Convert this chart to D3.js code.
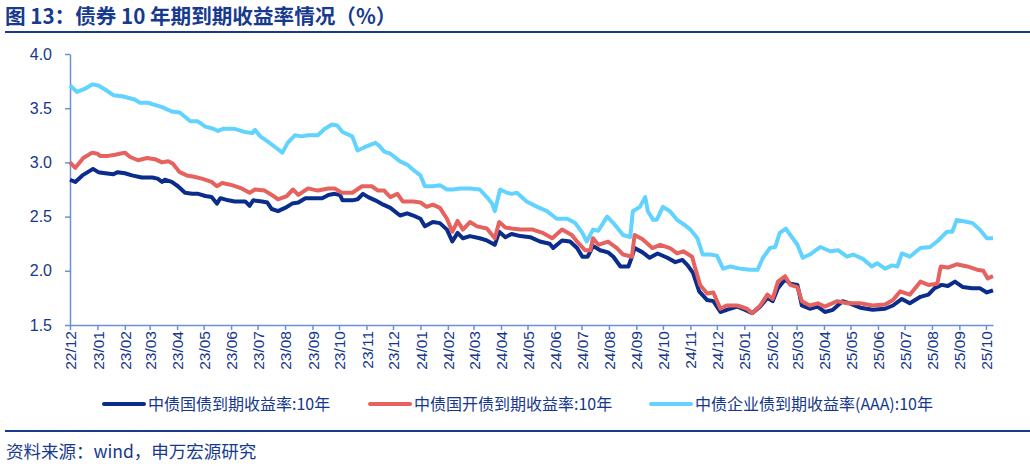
<!DOCTYPE html>
<html>
<head>
<meta charset="utf-8">
<title>债券 10 年期到期收益率情况</title>
<script src="https://d3js.org/d3.v7.min.js"></script>
<style>
  body { margin: 0; background: #fff; }
  svg { display: block; }
  .line { fill: none; stroke-width: 4px; stroke-linejoin: round; }
  .axis path, .axis line { stroke: #6b8fd8; stroke-width: 1.5px; }
  .axis text { font-family: "Liberation Sans", Arial, sans-serif; font-size: 16px; fill: #15378c; }
</style>
</head>
<body>
<svg width="1030" height="466"></svg>
<script>
// 中债国债到期收益率:10年
const cgb10y = [
  ["2022-12-01",2.84],["2022-12-07",2.82],["2022-12-15",2.88],["2022-12-21",2.91],["2022-12-27",2.94],
  ["2023-01-02",2.91],["2023-01-10",2.90],["2023-01-19",2.89],["2023-01-24",2.91],["2023-02-01",2.90],
  ["2023-02-09",2.88],["2023-02-20",2.86],["2023-03-04",2.86],["2023-03-10",2.85],["2023-03-15",2.82],
  ["2023-03-18",2.84],["2023-03-26",2.82],["2023-04-02",2.78],["2023-04-10",2.72],["2023-04-18",2.71],
  ["2023-04-25",2.71],["2023-05-03",2.69],["2023-05-10",2.68],["2023-05-16",2.62],["2023-05-20",2.67],
  ["2023-05-29",2.65],["2023-06-05",2.64],["2023-06-17",2.64],["2023-06-22",2.60],["2023-06-26",2.65],
  ["2023-07-06",2.64],["2023-07-12",2.63],["2023-07-17",2.57],["2023-07-24",2.55],["2023-08-01",2.58],
  ["2023-08-09",2.62],["2023-08-16",2.63],["2023-08-24",2.67],["2023-08-31",2.67],["2023-09-12",2.67],
  ["2023-09-19",2.70],["2023-09-26",2.71],["2023-10-02",2.70],["2023-10-05",2.65],["2023-10-16",2.65],
  ["2023-10-22",2.66],["2023-10-28",2.71],["2023-11-03",2.68],["2023-11-11",2.65],["2023-11-20",2.61],
  ["2023-11-28",2.58],["2023-12-09",2.51],["2023-12-17",2.53],["2023-12-24",2.51],["2024-01-01",2.48],
  ["2024-01-06",2.41],["2024-01-15",2.45],["2024-01-23",2.44],["2024-01-31",2.38],["2024-02-06",2.27],
  ["2024-02-12",2.35],["2024-02-18",2.30],["2024-02-26",2.32],["2024-03-08",2.30],["2024-03-16",2.28],
  ["2024-03-25",2.24],["2024-03-30",2.36],["2024-04-06",2.31],["2024-04-13",2.34],["2024-04-23",2.32],
  ["2024-05-04",2.31],["2024-05-15",2.27],["2024-05-26",2.25],["2024-05-30",2.21],["2024-06-09",2.28],
  ["2024-06-18",2.27],["2024-06-26",2.21],["2024-07-02",2.13],["2024-07-08",2.13],["2024-07-14",2.23],
  ["2024-07-22",2.19],["2024-07-31",2.17],["2024-08-06",2.13],["2024-08-14",2.04],["2024-08-23",2.04],
  ["2024-08-27",2.13],["2024-08-30",2.21],["2024-09-08",2.17],["2024-09-16",2.12],["2024-09-25",2.16],
  ["2024-10-06",2.12],["2024-10-15",2.08],["2024-10-23",2.10],["2024-10-29",2.05],["2024-11-04",1.98],
  ["2024-11-11",1.81],["2024-11-20",1.73],["2024-11-27",1.72],["2024-12-05",1.62],["2024-12-12",1.64],
  ["2024-12-24",1.67],["2025-01-02",1.64],["2025-01-10",1.61],["2025-01-19",1.67],["2025-01-27",1.75],
  ["2025-02-02",1.72],["2025-02-08",1.84],["2025-02-16",1.92],["2025-02-22",1.88],["2025-03-02",1.87],
  ["2025-03-07",1.68],["2025-03-16",1.65],["2025-03-25",1.67],["2025-04-02",1.62],["2025-04-11",1.64],
  ["2025-04-22",1.72],["2025-04-30",1.70],["2025-05-12",1.66],["2025-05-26",1.64],["2025-06-09",1.65],
  ["2025-06-18",1.68],["2025-06-28",1.74],["2025-07-07",1.70],["2025-07-19",1.76],["2025-07-28",1.78],
  ["2025-08-04",1.84],["2025-08-12",1.87],["2025-08-19",1.86],["2025-08-27",1.90],["2025-09-05",1.85],
  ["2025-09-15",1.84],["2025-09-24",1.84],["2025-10-02",1.80],["2025-10-09",1.82]
];

// 中债国开债到期收益率:10年
const cdb10y = [
  ["2022-12-01",3.00],["2022-12-07",2.95],["2022-12-16",3.04],["2022-12-26",3.09],["2023-01-01",3.08],
  ["2023-01-04",3.06],["2023-01-13",3.06],["2023-01-21",3.07],["2023-02-01",3.09],["2023-02-07",3.05],
  ["2023-02-16",3.02],["2023-02-26",3.04],["2023-03-07",3.03],["2023-03-15",3.00],["2023-03-22",3.01],
  ["2023-03-27",2.99],["2023-04-04",2.91],["2023-04-12",2.88],["2023-04-19",2.87],["2023-04-29",2.85],
  ["2023-05-10",2.82],["2023-05-16",2.78],["2023-05-22",2.81],["2023-06-02",2.79],["2023-06-13",2.76],
  ["2023-06-22",2.72],["2023-06-28",2.75],["2023-07-09",2.74],["2023-07-17",2.70],["2023-07-24",2.66],
  ["2023-08-03",2.69],["2023-08-10",2.75],["2023-08-16",2.70],["2023-08-27",2.76],["2023-09-07",2.74],
  ["2023-09-19",2.76],["2023-09-26",2.76],["2023-10-04",2.72],["2023-10-16",2.72],["2023-10-27",2.78],
  ["2023-11-07",2.78],["2023-11-14",2.74],["2023-11-21",2.74],["2023-11-28",2.68],["2023-12-06",2.71],
  ["2023-12-12",2.64],["2023-12-24",2.64],["2024-01-01",2.63],["2024-01-08",2.59],["2024-01-15",2.61],
  ["2024-01-23",2.58],["2024-01-31",2.48],["2024-02-06",2.36],["2024-02-12",2.46],["2024-02-18",2.38],
  ["2024-02-26",2.45],["2024-03-05",2.41],["2024-03-16",2.39],["2024-03-25",2.30],["2024-03-30",2.45],
  ["2024-04-06",2.40],["2024-04-13",2.39],["2024-04-23",2.38],["2024-05-07",2.38],["2024-05-18",2.35],
  ["2024-05-29",2.30],["2024-06-09",2.38],["2024-06-20",2.33],["2024-06-27",2.26],["2024-07-05",2.19],
  ["2024-07-11",2.19],["2024-07-14",2.30],["2024-07-20",2.24],["2024-07-31",2.27],["2024-08-10",2.21],
  ["2024-08-17",2.15],["2024-08-27",2.13],["2024-08-30",2.33],["2024-09-08",2.29],["2024-09-19",2.21],
  ["2024-09-28",2.24],["2024-10-09",2.21],["2024-10-17",2.16],["2024-10-24",2.18],["2024-11-03",2.13],
  ["2024-11-06",2.04],["2024-11-12",1.87],["2024-11-20",1.79],["2024-11-27",1.80],["2024-12-05",1.65],
  ["2024-12-12",1.68],["2024-12-24",1.68],["2025-01-04",1.65],["2025-01-10",1.61],["2025-01-19",1.68],
  ["2025-01-27",1.78],["2025-02-02",1.74],["2025-02-08",1.90],["2025-02-16",1.95],["2025-02-22",1.87],
  ["2025-03-02",1.85],["2025-03-07",1.72],["2025-03-16",1.68],["2025-03-25",1.70],["2025-04-02",1.67],
  ["2025-04-16",1.72],["2025-04-27",1.70],["2025-05-12",1.70],["2025-05-26",1.68],["2025-06-09",1.69],
  ["2025-06-18",1.73],["2025-06-26",1.81],["2025-07-07",1.78],["2025-07-19",1.90],["2025-07-28",1.87],
  ["2025-08-07",1.88],["2025-08-11",2.04],["2025-08-19",2.03],["2025-08-29",2.06],["2025-09-10",2.04],
  ["2025-09-21",2.01],["2025-09-28",2.00],["2025-10-03",1.93],["2025-10-09",1.95]
];

// 中债企业债到期收益率(AAA):10年
const aaa10y = [
  ["2022-12-01",3.71],["2022-12-09",3.65],["2022-12-18",3.68],["2022-12-26",3.72],["2023-01-02",3.71],
  ["2023-01-10",3.67],["2023-01-19",3.62],["2023-01-29",3.61],["2023-02-12",3.58],["2023-02-18",3.55],
  ["2023-02-27",3.55],["2023-03-15",3.51],["2023-03-26",3.47],["2023-04-04",3.46],["2023-04-16",3.38],
  ["2023-04-24",3.38],["2023-05-03",3.33],["2023-05-12",3.31],["2023-05-17",3.29],["2023-05-23",3.31],
  ["2023-06-05",3.31],["2023-06-17",3.28],["2023-06-25",3.27],["2023-06-28",3.30],["2023-07-04",3.24],
  ["2023-07-13",3.19],["2023-07-21",3.14],["2023-07-29",3.09],["2023-08-04",3.18],["2023-08-12",3.25],
  ["2023-08-20",3.24],["2023-08-27",3.25],["2023-09-07",3.25],["2023-09-15",3.31],["2023-09-23",3.35],
  ["2023-09-29",3.34],["2023-10-05",3.28],["2023-10-16",3.24],["2023-10-22",3.11],["2023-10-30",3.14],
  ["2023-11-11",3.18],["2023-11-16",3.15],["2023-11-21",3.10],["2023-11-28",3.08],["2023-12-09",3.01],
  ["2023-12-17",2.98],["2023-12-24",2.93],["2024-01-01",2.88],["2024-01-06",2.78],["2024-01-15",2.78],
  ["2024-01-23",2.79],["2024-01-31",2.75],["2024-02-07",2.75],["2024-02-15",2.76],["2024-02-26",2.76],
  ["2024-03-08",2.75],["2024-03-16",2.68],["2024-03-22",2.62],["2024-03-25",2.55],["2024-03-31",2.75],
  ["2024-04-08",2.72],["2024-04-13",2.71],["2024-04-19",2.72],["2024-04-30",2.64],["2024-05-12",2.59],
  ["2024-05-23",2.55],["2024-06-03",2.48],["2024-06-15",2.48],["2024-06-24",2.44],["2024-07-02",2.35],
  ["2024-07-07",2.27],["2024-07-14",2.38],["2024-07-20",2.37],["2024-07-30",2.50],["2024-08-06",2.44],
  ["2024-08-17",2.33],["2024-08-25",2.31],["2024-08-28",2.55],["2024-09-05",2.59],["2024-09-11",2.68],
  ["2024-09-14",2.55],["2024-09-20",2.47],["2024-09-24",2.47],["2024-10-01",2.59],["2024-10-09",2.55],
  ["2024-10-17",2.47],["2024-10-26",2.42],["2024-11-01",2.38],["2024-11-09",2.30],["2024-11-15",2.15],
  ["2024-11-23",2.15],["2024-12-01",2.14],["2024-12-08",2.02],["2024-12-16",2.04],["2024-12-27",2.02],
  ["2025-01-07",2.01],["2025-01-16",2.01],["2025-01-22",2.12],["2025-01-30",2.21],["2025-02-05",2.22],
  ["2025-02-10",2.35],["2025-02-17",2.39],["2025-02-22",2.33],["2025-03-02",2.24],["2025-03-08",2.12],
  ["2025-03-16",2.15],["2025-03-28",2.22],["2025-04-08",2.18],["2025-04-17",2.19],["2025-04-27",2.13],
  ["2025-05-04",2.15],["2025-05-15",2.11],["2025-05-25",2.04],["2025-05-31",2.07],["2025-06-09",2.02],
  ["2025-06-17",2.05],["2025-06-23",2.04],["2025-06-28",2.16],["2025-07-07",2.13],["2025-07-19",2.21],
  ["2025-07-30",2.22],["2025-08-08",2.28],["2025-08-18",2.36],["2025-08-24",2.36],["2025-08-29",2.47],
  ["2025-09-10",2.45],["2025-09-16",2.44],["2025-09-24",2.38],["2025-10-02",2.30],["2025-10-09",2.30]
];

const seriesNames = ["中债国债到期收益率:10年", "中债国开债到期收益率:10年", "中债企业债到期收益率(AAA):10年"];
const seriesColors = ["#0a2d8c", "#e6625f", "#62d3ff"];
const yTicks = [1.5, 2.0, 2.5, 3.0, 3.5, 4.0];
const xStart = "2022-12-01", xEnd = "2025-10-09";

const svg = d3.select("svg");
const parseDate = d3.timeParse("%Y-%m-%d");
const margin = { top: 54, bottom: 141, left: 70, right: 37 };
const width = +svg.attr("width"), height = +svg.attr("height");

const xScale = d3.scaleTime()
  .domain([parseDate(xStart), parseDate(xEnd)])
  .range([margin.left, width - margin.right]);
const yScale = d3.scaleLinear()
  .domain([1.5, 4.0])
  .range([height - margin.bottom, margin.top]);

// title
svg.append("text")
  .attr("x", 5).attr("y", 24)
  .style("font-family", "'Noto Sans CJK SC', sans-serif")
  .style("font-size", "20.6px").style("font-weight", "bold")
  .attr("fill", "#173a8e")
  .text("图 13：债券 10 年期到期收益率情况（%）");
svg.append("rect").attr("x", 5).attr("y", 31).attr("width", 1025).attr("height", 2).attr("fill", "#173a8e");

// axes
const yAxis = d3.axisLeft(yScale).tickValues(yTicks).tickFormat(d3.format(".1f")).tickSize(5).tickSizeOuter(0).tickPadding(13);
svg.append("g").attr("class", "axis").attr("transform", `translate(${margin.left},0)`).call(yAxis);

const xAxis = d3.axisBottom(xScale).ticks(d3.timeMonth.every(1)).tickFormat(d3.timeFormat("%y/%m")).tickSize(5).tickSizeOuter(0);
const gx = svg.append("g").attr("class", "axis").attr("transform", `translate(0,${height - margin.bottom})`).call(xAxis);
gx.selectAll("text")
  .attr("transform", "rotate(-90)")
  .attr("text-anchor", "end")
  .attr("x", -6).attr("y", 0).attr("dy", "0.36em")
  .style("font-size", "15.5px");

// lines
const line = d3.line()
  .x(d => xScale(parseDate(d[0])))
  .y(d => yScale(d[1]));

[cgb10y, cdb10y, aaa10y].forEach((data, i) => {
  svg.append("path")
    .datum(data)
    .attr("class", "line")
    .attr("stroke", seriesColors[i])
    .attr("d", line);
});

// legend
const legendX = [104, 370, 651];
const legend = svg.append("g");
seriesNames.forEach((name, i) => {
  legend.append("line")
    .attr("x1", legendX[i]).attr("x2", legendX[i] + 40)
    .attr("y1", 404).attr("y2", 404)
    .attr("stroke", seriesColors[i]).attr("stroke-width", 4).attr("stroke-linecap", "round");
  legend.append("text")
    .attr("x", legendX[i] + 44).attr("y", 410)
    .style("font-family", "'Noto Sans CJK SC', sans-serif")
    .style("font-size", "16px")
    .attr("fill", "#15378c")
    .text(name);
});

// source
svg.append("rect").attr("x", 5).attr("y", 430).attr("width", 1025).attr("height", 2).attr("fill", "#173a8e");
svg.append("text")
  .attr("x", 6).attr("y", 458)
  .style("font-family", "'Noto Sans CJK SC', sans-serif")
  .style("font-size", "17.5px")
  .attr("fill", "#173a8e")
  .text("资料来源：wind，申万宏源研究");
</script>
</body>
</html>
